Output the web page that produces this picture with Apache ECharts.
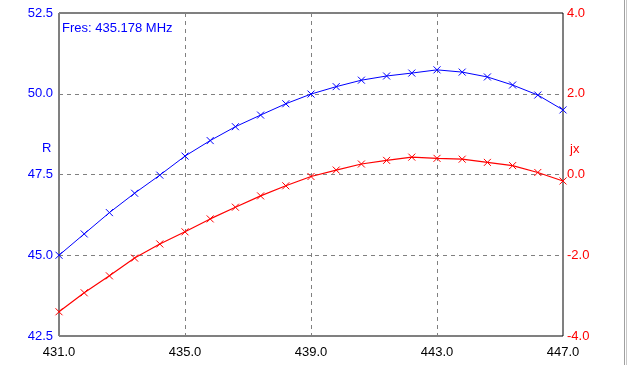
<!DOCTYPE html>
<html lang="en">
<head>
    <meta charset="UTF-8">
    <title>Impedance</title>
    <style>
        html, body { margin: 0; padding: 0; background: #fff; }
        #chart { width: 629px; height: 365px; }
    </style>
</head>
<body>
<div id="chart"></div>
<script src="https://cdn.jsdelivr.net/npm/echarts@6/dist/echarts.min.js"></script>
<script>
    // frequency points (MHz)
    var freqs = [431.0, 431.8, 432.6, 433.4, 434.2, 435.0, 435.8, 436.6, 437.4, 438.2, 439.0,
                 439.8, 440.6, 441.4, 442.2, 443.0, 443.8, 444.6, 445.4, 446.2, 447.0];
    // resistance R
    var rValues = [45.00, 45.66, 46.32, 46.92, 47.48, 48.07, 48.55, 48.98, 49.34, 49.69, 49.99,
                   50.22, 50.42, 50.55, 50.64, 50.74, 50.67, 50.52, 50.27, 49.96, 49.50];
    // reactance jx
    var xValues = [-3.40, -2.93, -2.51, -2.07, -1.72, -1.42, -1.10, -0.81, -0.53, -0.28, -0.05,
                   0.11, 0.26, 0.35, 0.43, 0.40, 0.38, 0.30, 0.22, 0.05, -0.16];
    var resText = 'Fres: 435.178 MHz';

    var font = 'Liberation Sans, Arial, sans-serif';
    var crossMark = 'path://M0,0L10,10M10,0L0,10';

    var myChart = echarts.init(document.getElementById('chart'));
    var option = {
        animation: false,
        backgroundColor: '#fff',
        grid: {
            left: 59, right: 66, top: 13, bottom: 29,
            show: true, borderColor: '#000', borderWidth: 1
        },
        xAxis: {
            type: 'category',
            boundaryGap: false,
            data: freqs.map(function (f) { return f.toFixed(1); }),
            axisLine: { show: false },
            axisTick: { show: false },
            axisLabel: {
                interval: 4, margin: 10, color: '#000',
                fontFamily: font, fontSize: 13
            },
            splitLine: {
                show: true, interval: 4,
                lineStyle: { color: '#808080', type: [4, 4], width: 1 }
            }
        },
        yAxis: [{
            type: 'value',
            min: 42.5, max: 52.5, interval: 2.5,
            axisLine: { show: false },
            axisTick: { show: false },
            axisLabel: {
                margin: 6, color: '#0000ff', fontFamily: font, fontSize: 13,
                formatter: function (v) { return v.toFixed(1); }
            },
            splitLine: { lineStyle: { color: '#808080', type: [4, 4], width: 1 } }
        }, {
            type: 'value',
            min: -4, max: 4, interval: 2,
            position: 'right',
            axisLine: { show: false },
            axisTick: { show: false },
            splitLine: { show: false },
            axisLabel: {
                margin: 4, color: '#ff0000', fontFamily: font, fontSize: 13,
                formatter: function (v) { return v.toFixed(1); }
            }
        }],
        graphic: [
            { type: 'text', left: 62, top: 22,
              style: { text: resText, fill: '#0000ff', font: '13px ' + font } },
            { type: 'text', left: 42, top: 142,
              style: { text: 'R', fill: '#0000ff', font: '13px ' + font } },
            { type: 'text', left: 570, top: 143,
              style: { text: 'jx', fill: '#ff0000', font: '13px ' + font } },
            { type: 'rect', shape: { x: 624, y: 0, width: 1, height: 365 },
              style: { fill: '#a0a0a0' } },
            { type: 'rect', shape: { x: 626, y: 0, width: 1, height: 365 },
              style: { fill: '#c8c8c8' } }
        ],
        series: [{
            name: 'R',
            type: 'line',
            yAxisIndex: 0,
            data: rValues,
            symbol: crossMark,
            symbolSize: 7,
            showAllSymbol: true,
            lineStyle: { color: '#0000ff', width: 1 },
            itemStyle: { color: 'transparent', borderColor: '#0000ff', borderWidth: 1 }
        }, {
            name: 'jx',
            type: 'line',
            yAxisIndex: 1,
            data: xValues,
            symbol: crossMark,
            symbolSize: 7,
            showAllSymbol: true,
            lineStyle: { color: '#ff0000', width: 1.2 },
            itemStyle: { color: 'transparent', borderColor: '#ff0000', borderWidth: 1 }
        }]
    };
    myChart.setOption(option);
</script>
</body>
</html>
